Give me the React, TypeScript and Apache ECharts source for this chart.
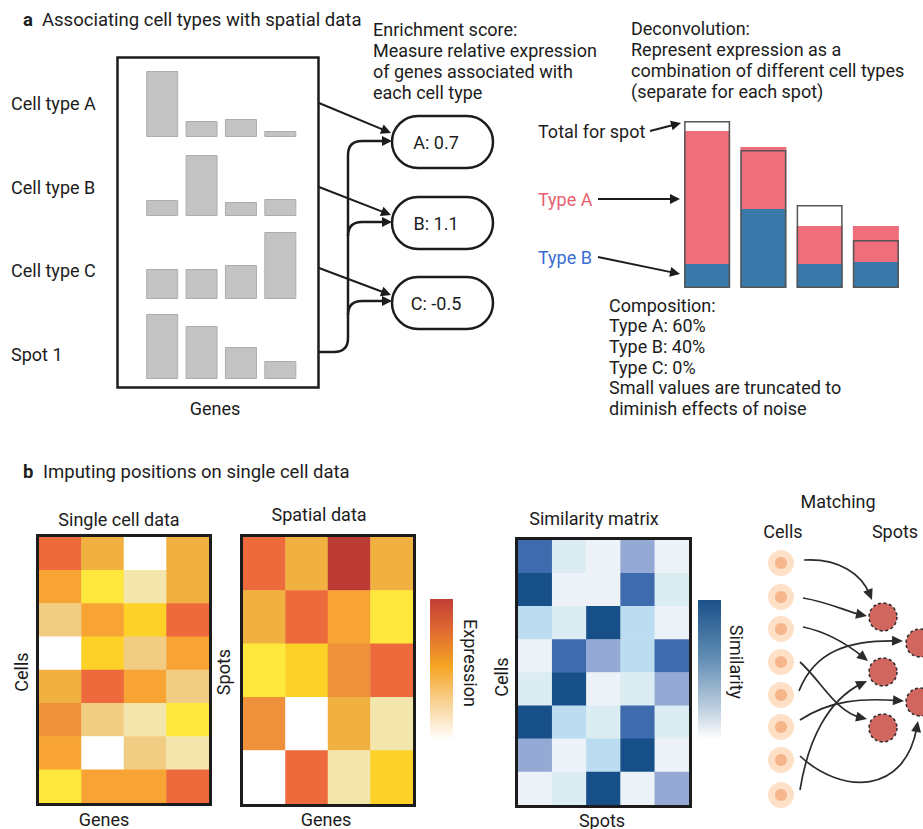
import React, { useEffect, useRef } from 'react';
import * as echarts from 'echarts';

// ---------- data ----------
const genes = ['G1', 'G2', 'G3', 'G4'];
const rowLabels = ['Cell type A', 'Cell type B', 'Cell type C', 'Spot 1'];
const cellTypeA = [6.6, 1.6, 1.8, 0.6];
const cellTypeB = [1.6, 6.1, 1.4, 1.7];
const cellTypeC = [3.0, 3.0, 3.4, 6.7];
const spot1 = [6.5, 5.3, 3.2, 1.8];

const enrichLabels = ['A: 0.7', 'B: 1.1', 'C: -0.5'];

const spotsCat = ['S1', 'S2', 'S3', 'S4'];
const typeBShare = [2.4, 7.9, 2.4, 2.6];
const typeAShare = [13.3, 6.2, 3.8, 3.6];
const totalForSpot = [16.7, 13.8, 8.3, 4.8];

const enrichText = ['Enrichment score:', 'Measure relative expression', 'of genes associated with', 'each cell type'];
const deconvText = ['Deconvolution:', 'Represent expression as a', 'combination of different cell types', '(separate for each spot)'];
const compositionText = ['Composition:', 'Type A: 60%', 'Type B: 40%', 'Type C: 0%', 'Small values are truncated to', 'diminish effects of noise'];

// expression levels 0..9, rows top->bottom
const singleCell = [
  [8, 5, 0, 5],
  [6, 3, 1, 5],
  [2, 6, 4, 8],
  [0, 4, 2, 6],
  [5, 8, 6, 2],
  [7, 2, 1, 3],
  [6, 0, 2, 1],
  [3, 6, 6, 8],
];
const spatial = [
  [8, 5, 9, 5],
  [5, 8, 6, 3],
  [3, 4, 7, 8],
  [7, 0, 5, 1],
  [0, 8, 1, 4],
];
// similarity levels 0..5
const similarity = [
  [4, 1, 0, 3, 0],
  [5, 0, 0, 4, 1],
  [2, 1, 5, 2, 0],
  [0, 4, 3, 2, 4],
  [1, 5, 0, 1, 3],
  [5, 2, 1, 4, 1],
  [3, 0, 2, 5, 0],
  [0, 1, 5, 0, 3],
];

const exprColors = ['#ffffff', '#f3e6ad', '#f1cd84', '#fde83b', '#fdd127', '#f0b141', '#f8a434', '#ee913a', '#ec6a3b', '#bd3b35'];
const simColors = ['#edf2f8', '#dbecf2', '#bcdcf1', '#94a9d3', '#3e6aae', '#175088'];

// ---------- helpers ----------
const FONT = 'Roboto, "Noto Sans", sans-serif';
const INK = '#1c1c1c';
const FS = 18;

function txt(text: string, x: number, y: number, extra: any = {}, styleExtra: any = {}) {
  return {
    type: 'text', x, y, z: 100, silent: true, ...extra,
    style: { text, fill: INK, fontSize: FS, fontFamily: FONT, textAlign: 'left', textVerticalAlign: 'middle', ...styleExtra },
  };
}
function head(tx: number, ty: number, fx: number, fy: number, len = 10, w = 5, color = INK) {
  const a = Math.atan2(ty - fy, tx - fx);
  const bx = tx - len * Math.cos(a);
  const by = ty - len * Math.sin(a);
  return {
    type: 'polygon', z: 100, silent: true,
    shape: { points: [[tx, ty], [bx + w * Math.sin(a), by - w * Math.cos(a)], [bx - w * Math.sin(a), by + w * Math.cos(a)]] },
    style: { fill: color },
  };
}
function line(x1: number, y1: number, x2: number, y2: number, lw = 2) {
  return { type: 'line', z: 100, silent: true, shape: { x1, y1, x2, y2 }, style: { stroke: INK, lineWidth: lw } };
}
function quad(x1: number, y1: number, cpx1: number, cpy1: number, x2: number, y2: number, lw = 2.5) {
  return { type: 'bezierCurve', z: 100, silent: true, shape: { x1, y1, cpx1, cpy1, x2, y2 }, style: { stroke: INK, lineWidth: lw, fill: 'none' } };
}
function arrowLine(x1: number, y1: number, x2: number, y2: number, lw = 2) {
  const a = Math.atan2(y2 - y1, x2 - x1);
  return [line(x1, y1, x2 - 8 * Math.cos(a), y2 - 8 * Math.sin(a), lw), head(x2, y2, x1, y1)];
}
function curveArrow(p: number[], lw = 1.7) {
  const [x1, y1, c1x, c1y, c2x, c2y, x2, y2] = p;
  const a = Math.atan2(y2 - c2y, x2 - c2x);
  return [
    { type: 'bezierCurve', z: 100, silent: true,
      shape: { x1, y1, cpx1: c1x, cpy1: c1y, cpx2: c2x, cpy2: c2y, x2: x2 - 6 * Math.cos(a), y2: y2 - 6 * Math.sin(a) },
      style: { stroke: '#2b2b2b', lineWidth: lw, fill: 'none' } },
    head(x2, y2, c2x, c2y, 11, 5, '#2b2b2b'),
  ];
}
const toCells = (m: number[][]) => m.flatMap((row, r) => row.map((v, c) => [c, r, v]));

// ---------- layout ----------
const rowBaselines = [137, 216, 299, 379];
const rowLabelY = [103, 187, 270, 354];
const barSeriesData = [cellTypeA, cellTypeB, cellTypeC, spot1];
const pillTops = [116, 197, 277];

const cellYs = [563, 597, 629, 662, 695, 727, 760, 795];
const spotCol1 = [617, 672, 728];
const spotCol2 = [643, 702];
const matchCurves = [
  [804, 560, 840, 558, 862, 575, 872, 600],
  [803, 598, 828, 602, 848, 612, 867, 616],
  [803, 627, 832, 633, 852, 648, 868, 661],
  [800, 662, 822, 682, 836, 712, 867, 719],
  [799, 691, 815, 650, 850, 640, 903, 641],
  [800, 720, 830, 700, 862, 698, 904, 701],
  [800, 756, 842, 795, 905, 795, 918, 721],
  [800, 790, 808, 740, 828, 700, 867, 681],
];

function buildOption() {
  const grids: any[] = [];
  const xAxes: any[] = [];
  const yAxes: any[] = [];
  const series: any[] = [];

  // panel a small bar charts
  rowBaselines.forEach((b, i) => {
    grids.push({ left: 142.5, top: b - 70, width: 157.5, height: 70 });
    xAxes.push({ type: 'category', gridIndex: i, data: genes, show: false });
    yAxes.push({ type: 'value', gridIndex: i, min: 0, max: 7, show: false });
    series.push({
      type: 'bar', xAxisIndex: i, yAxisIndex: i, data: barSeriesData[i], barWidth: 32, silent: true,
      itemStyle: { color: '#c3c3c3', borderColor: '#acacac', borderWidth: 1 },
    });
  });

  // deconvolution stacked bars (grid 4)
  grids.push({ left: 679, top: 108, width: 225, height: 180 });
  xAxes.push({ type: 'category', gridIndex: 4, data: spotsCat, show: false });
  yAxes.push({ type: 'value', gridIndex: 4, min: 0, max: 18, show: false });
  series.push({ type: 'bar', xAxisIndex: 4, yAxisIndex: 4, stack: 'mix', data: typeBShare, barWidth: 46, silent: true, itemStyle: { color: '#3a7aaa' } });
  series.push({ type: 'bar', xAxisIndex: 4, yAxisIndex: 4, stack: 'mix', data: typeAShare, barWidth: 46, silent: true, itemStyle: { color: '#ef6e7b' } });
  series.push({ type: 'bar', xAxisIndex: 4, yAxisIndex: 4, data: totalForSpot, barWidth: 46, barGap: '-100%', silent: true, z: 5,
    itemStyle: { color: 'rgba(0,0,0,0)', borderColor: '#555555', borderWidth: 1.5 } });

  // heatmaps (grids 5,6,7)
  const hm = [
    { m: singleCell, g: { left: 39, top: 537, width: 170, height: 266 } },
    { m: spatial, g: { left: 243, top: 537, width: 170, height: 267 } },
    { m: similarity, g: { left: 518, top: 540, width: 171, height: 265 } },
  ];
  hm.forEach((h, k) => {
    const gi = 5 + k;
    grids.push(h.g);
    xAxes.push({ type: 'category', gridIndex: gi, data: h.m[0].map((_, c) => 'c' + c), show: false });
    yAxes.push({ type: 'category', gridIndex: gi, data: h.m.map((_, r) => 'r' + r), inverse: true, show: false });
    series.push({ type: 'heatmap', xAxisIndex: gi, yAxisIndex: gi, data: toCells(h.m), silent: true, itemStyle: { borderWidth: 0 } });
  });

  const g: any[] = [];
  // ---- panel a ----
  g.push(txt('a', 23, 20, {}, { fontWeight: 'bold', fontSize: 18.5 }));
  g.push(txt('Associating cell types with spatial data', 42, 20, {}, { fontSize: 18.5 }));
  g.push({ type: 'rect', z: 100, silent: true, shape: { x: 117.5, y: 57.5, width: 201, height: 330 }, style: { fill: 'none', stroke: INK, lineWidth: 2.5 } });
  rowLabels.forEach((l, i) => g.push(txt(l, 11, rowLabelY[i])));
  g.push(txt('Genes', 215, 408, {}, { textAlign: 'center' }));

  // straight arrows to pills
  g.push(...arrowLine(319, 103, 391, 133));
  g.push(...arrowLine(319, 187, 391, 215));
  g.push(...arrowLine(319, 268, 391, 295));
  // spot connector
  g.push(line(319, 352, 334, 352, 2.5));
  g.push(quad(334, 352, 348, 352, 348, 338));
  g.push(line(348, 338, 348, 155, 2.5));
  const branchYs = [141, 222, 301];
  branchYs.forEach((by) => {
    g.push(quad(348, by + 14, 348, by, 362, by));
    g.push(line(362, by, 384, by, 2.5));
    g.push(head(392, by, 362, by));
  });
  // pills
  pillTops.forEach((t, i) => {
    g.push({ type: 'rect', z: 100, silent: true, shape: { x: 392, y: t, width: 101, height: 52, r: 26 }, style: { fill: '#fff', stroke: INK, lineWidth: 2.5 } });
    g.push(txt(enrichLabels[i], 436, t + 26, {}, { textAlign: 'center' }));
  });
  enrichText.forEach((l, i) => g.push(txt(l, 373, 29 + i * 21)));
  deconvText.forEach((l, i) => g.push(txt(l, 631, 28 + i * 21)));

  g.push(txt('Total for spot', 538, 131));
  g.push(...arrowLine(650, 131, 681, 123));
  g.push(txt('Type A', 538, 199, {}, { fill: '#e8606f' }));
  g.push(...arrowLine(598, 199, 680, 199));
  g.push(txt('Type B', 538, 257, {}, { fill: '#3b6cd2' }));
  g.push(...arrowLine(598, 257, 680, 274));
  compositionText.forEach((l, i) => g.push(txt(l, 609, 305 + i * 20.7)));

  // ---- panel b ----
  g.push(txt('b', 23, 472, {}, { fontWeight: 'bold', fontSize: 18.5 }));
  g.push(txt('Imputing positions on single cell data', 43, 472, {}, { fontSize: 18.5 }));

  g.push(txt('Single cell data', 119, 519, {}, { textAlign: 'center' }));
  g.push(txt('Spatial data', 319, 514, {}, { textAlign: 'center' }));
  g.push(txt('Similarity matrix', 594, 518, {}, { textAlign: 'center' }));
  g.push(txt('Genes', 104, 819, {}, { textAlign: 'center' }));
  g.push(txt('Genes', 326, 819, {}, { textAlign: 'center' }));
  g.push(txt('Spots', 602, 820, {}, { textAlign: 'center' }));
  g.push(txt('Cells', 21, 672, { rotation: Math.PI / 2 }, { textAlign: 'center' }));
  g.push(txt('Spots', 223, 672, { rotation: Math.PI / 2 }, { textAlign: 'center' }));
  g.push(txt('Cells', 501, 677, { rotation: Math.PI / 2 }, { textAlign: 'center' }));
  const borders = [
    { x: 37.5, y: 535.5, width: 173, height: 269 },
    { x: 241.5, y: 535.5, width: 173, height: 270 },
    { x: 516.5, y: 538.5, width: 174, height: 268 },
  ];
  borders.forEach((s) => g.push({ type: 'rect', z: 100, silent: true, shape: s, style: { fill: 'none', stroke: INK, lineWidth: 3 } }));

  // colour bars
  g.push({ type: 'rect', z: 50, silent: true, shape: { x: 430, y: 599, width: 23, height: 141 },
    style: { fill: new echarts.graphic.LinearGradient(0, 0, 0, 1, [
      { offset: 0, color: '#c23d37' }, { offset: 0.25, color: '#e2702f' }, { offset: 0.48, color: '#f5a623' },
      { offset: 0.72, color: '#f8d08e' }, { offset: 1, color: '#ffffff' }]) } });
  g.push(txt('Expression', 470, 663, { rotation: -Math.PI / 2 }, { textAlign: 'center' }));
  g.push({ type: 'rect', z: 50, silent: true, shape: { x: 698, y: 600, width: 23, height: 140 },
    style: { fill: new echarts.graphic.LinearGradient(0, 0, 0, 1, [
      { offset: 0, color: '#1b5089' }, { offset: 0.4, color: '#5d8bb1' }, { offset: 0.75, color: '#b7c9dc' }, { offset: 1, color: '#ffffff' }]) } });
  g.push(txt('Similarity', 736, 662, { rotation: -Math.PI / 2 }, { textAlign: 'center' }));

  // matching
  g.push(txt('Matching', 838, 501, {}, { textAlign: 'center' }));
  g.push(txt('Cells', 783, 531, {}, { textAlign: 'center' }));
  g.push(txt('Spots', 895, 531, {}, { textAlign: 'center' }));
  cellYs.forEach((y) => {
    g.push({ type: 'circle', z: 60, silent: true, shape: { cx: 781, cy: y, r: 13 }, style: { fill: '#fde0c5' } });
    g.push({ type: 'circle', z: 61, silent: true, shape: { cx: 781, cy: y, r: 6 }, style: { fill: '#f7b58b' } });
  });
  const spotStyle = { fill: '#d1665f', stroke: '#2a2a2a', lineWidth: 1.5, lineDash: [3, 2.5] };
  spotCol1.forEach((y) => g.push({ type: 'circle', z: 60, silent: true, shape: { cx: 883, cy: y, r: 14 }, style: spotStyle }));
  spotCol2.forEach((y) => g.push({ type: 'circle', z: 60, silent: true, shape: { cx: 920, cy: y, r: 14 }, style: spotStyle }));
  matchCurves.forEach((p) => g.push(...curveArrow(p)));

  return {
    animation: false,
    backgroundColor: '#ffffff',
    grid: grids,
    xAxis: xAxes,
    yAxis: yAxes,
    visualMap: [
      { type: 'piecewise', show: false, seriesIndex: [7, 8], pieces: exprColors.map((c, i) => ({ value: i, color: c })) },
      { type: 'piecewise', show: false, seriesIndex: [9], pieces: simColors.map((c, i) => ({ value: i, color: c })) },
    ],
    series,
    graphic: { elements: g },
  };
}

export default function App() {
  const ref = useRef<HTMLDivElement>(null);
  useEffect(() => {
    document.body.style.margin = '0';
    const chart = echarts.init(ref.current as HTMLDivElement, null, { renderer: 'svg' });
    chart.setOption(buildOption() as any);
    return () => chart.dispose();
  }, []);
  return <div ref={ref} style={{ width: 923, height: 829 }} />;
}
